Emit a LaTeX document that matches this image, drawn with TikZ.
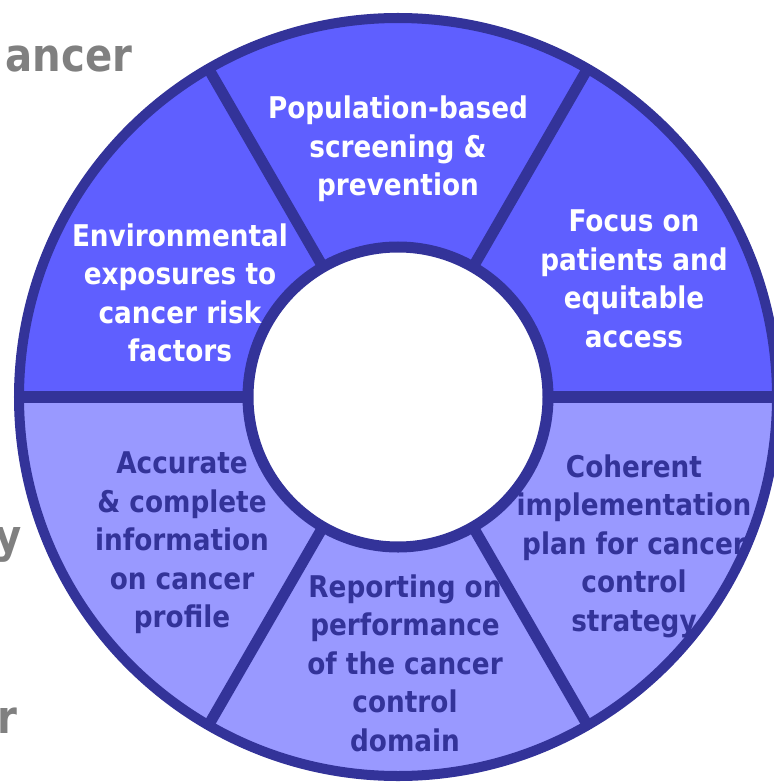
\documentclass[tikz,border=0pt]{standalone}
\usepackage{fontspec}
\newfontfamily\segfont{DejaVu Sans}[FakeStretch=0.88]
\usetikzlibrary{calc}
\definecolor{upcol}{HTML}{5F5FFF}
\definecolor{lowcol}{HTML}{9999FF}
\definecolor{bordcol}{HTML}{333399}
\definecolor{graytxt}{HTML}{808080}
\tikzset{
  seglabel/.style={align=center, inner sep=0pt, font=\segfont\bfseries\fontsize{8.5pt}{10.95pt}\selectfont},
  uplabel/.style={seglabel, text=white},
  lowlabel/.style={seglabel, text=bordcol},
  sidetext/.style={anchor=base east, inner sep=0pt, text=graytxt, font=\segfont\bfseries\fontsize{13pt}{15pt}\selectfont},
  ringline/.style={draw=bordcol, line width=0.11cm},
}
\begin{document}
\begin{tikzpicture}[x=0.01cm,y=-0.01cm]
\useasboundingbox (0,0) rectangle (774,782);
\def\Ro{379}
\def\Ri{150}
\coordinate (c) at (398,397);
% side texts partly hidden
\node[sidetext] (t1) at (133,72) {ancer};
\node[sidetext] (t2) at (22,552) {y};
\node[sidetext] (t3) at (18,733) {r};
% ring fills
\fill[upcol] ($(c)+(0:\Ro)$) arc[start angle=0, end angle=-180, radius=\Ro] -- cycle;
\fill[lowcol] ($(c)+(0:\Ro)$) arc[start angle=0, end angle=180, radius=\Ro] -- cycle;
% radial dividers
\foreach \a in {0,60,120,180,240,300}
  \draw[ringline] ($(c)+(\a:\Ri)$) -- ($(c)+(\a:\Ro)$);
% outer border
\draw[draw=bordcol, line width=0.1cm] (c) circle[radius=\Ro];
% inner hole
\draw[ringline, fill=white] (c) circle[radius=\Ri];
% labels
\node[uplabel] (pop) at (398,149) {Population-based\\screening \&\\prevention};
\node[uplabel] (foc) at (634,279) {Focus on\\patients and\\equitable\\access};
\node[uplabel] (env) at (180,293) {Environmental\\exposures to\\cancer risk\\factors};
\node[lowlabel] (acc) at (182,543) {Accurate\\\& complete\\information\\on cancer\\profile};
\node[lowlabel] (rep) at (405,663) {Reporting on\\performance\\of the cancer\\control\\domain};
\node[lowlabel] (coh) at (634,546) {Coherent\\implementation\\plan for cancer\\control\\strategy};
\end{tikzpicture}
\end{document}
